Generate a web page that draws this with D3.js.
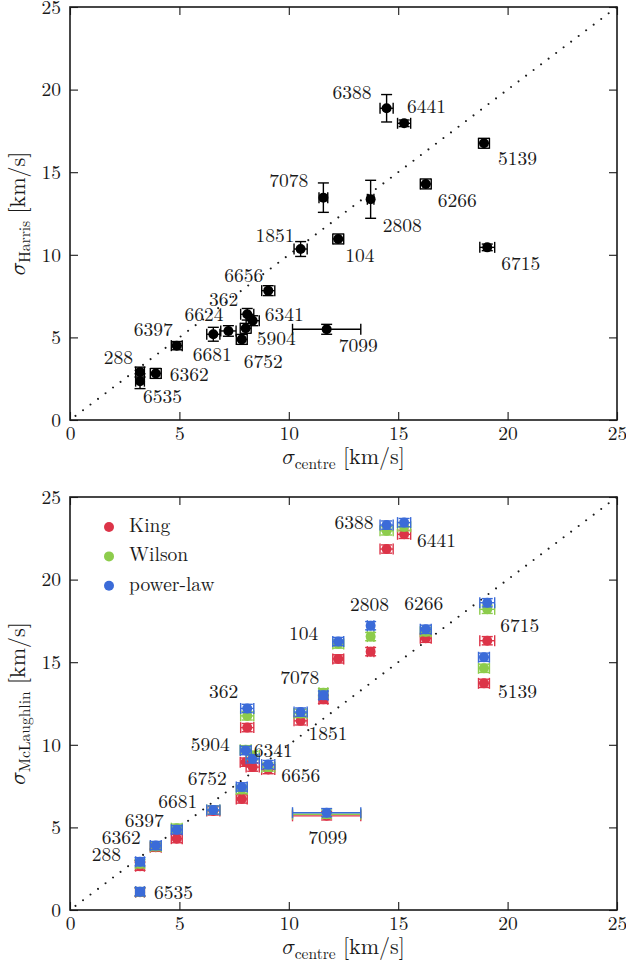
<!DOCTYPE html>
<html>
<head>
<meta charset="utf-8">
<script src="https://cdn.jsdelivr.net/npm/d3@7/dist/d3.min.js"></script>
<style>
  html, body { margin: 0; padding: 0; background: #fff; }
  svg { display: block; }
</style>
</head>
<body>
<svg id="chart" width="626" height="970"></svg>
<script>
// ---- data -------------------------------------------------------------
const clusters = ["104","288","362","1851","2808","5139","5904","6266","6341","6362","6388",
                  "6397","6441","6535","6624","6656","6681","6715","6752","7078","7099"];

// central velocity dispersion [km/s] and its uncertainty
const sigmaCentre    = [12.26, 3.20, 8.10, 10.54, 13.74, 18.92, 8.03, 16.26, 8.35, 3.92, 14.47,
                        4.88, 15.27, 3.20, 7.24, 9.06, 6.55, 19.07, 7.85, 11.58, 11.73];
const sigmaCentreErr = [0.25, 0.20, 0.30, 0.30, 0.15, 0.25, 0.25, 0.25, 0.30, 0.25, 0.30,
                        0.25, 0.30, 0.20, 0.35, 0.30, 0.30, 0.34, 0.25, 0.20, 1.56];

// Harris catalogue dispersion
const sigmaHarris    = [10.96, 2.90, 6.40, 10.35, 13.36, 16.75, 5.55, 14.29, 6.01, 2.82, 18.87,
                        4.50, 17.96, 2.35, 5.39, 7.83, 5.19, 10.45, 4.88, 13.46, 5.49];
const sigmaHarrisErr = [0.30, 0.30, 0.35, 0.45, 1.15, 0.30, 0.30, 0.30, 0.30, 0.30, 0.83,
                        0.25, 0.20, 0.45, 0.32, 0.30, 0.42, 0.20, 0.30, 0.89, 0.30];

// McLaughlin & van der Marel dispersions for three model families (null = no value)
const mclKing     = [15.20, 2.65, 11.04, 11.45, 15.64, 13.72, 8.95, 16.45, 8.65, 3.80, 21.85,
                     4.32, 22.74, 1.08, null, 8.50, 6.00, 16.30, 6.72, 12.75, 5.70];
const mclWilson   = [16.10, 2.80, 11.75, 11.90, 16.55, 14.63, 9.70, 16.85, 9.35, 3.85, 22.95,
                     4.95, 23.20, 1.10, null, 8.65, 6.05, 18.20, 7.30, 13.15, 5.80];
const mclPowerLaw = [16.25, 2.92, 12.20, 11.98, 17.21, 15.30, 9.65, 16.99, 9.15, 3.90, 23.30,
                     4.86, 23.45, 1.11, null, 8.80, 6.05, 18.60, 7.45, 13.00, 5.89];
const mclErr      = [0.25, 0.25, 0.25, 0.25, 0.25, 0.25, 0.25, 0.25, 0.25, 0.25, 0.25,
                     0.25, 0.25, 0.25, null, 0.25, 0.25, 0.25, 0.25, 0.25, 0.25];

const seriesNames = ["King", "Wilson", "power-law"];
const tickValues  = [0, 5, 10, 15, 20, 25];

// ---- label placement (pixel offsets from the marker, text anchor) ------
const topLabelPos = {
  "6388": [-15, -9, "end"],   "6441": [3, -10, "start"],   "5139": [14, 22, "start"],
  "6266": [12, 23, "start"],  "2808": [12, 33, "start"],   "7078": [-15, -11, "end"],
  "1851": [-6, -7, "end"],    "104":  [7, 23, "start"],    "6715": [14, 23, "start"],
  "6656": [-5, -9, "end"],    "362":  [-9, -8, "end"],     "6341": [12, 0, "start"],
  "6624": [-5, -10, "end"],   "6397": [-4, -10, "end"],    "5904": [11, 17, "start"],
  "6681": [-1, 27, "middle"], "6752": [2, 29, "start"],    "288":  [-7, -8, "end"],
  "6362": [14, 8, "start"],   "6535": [3, 22, "start"],    "7099": [12, 23, "start"]
};
const bottomLabelPos = {
  "6388": [-13, 4, "end"],    "6441": [13, 24, "start"],   "2808": [-1, -15, "middle"],
  "6266": [-2, -19, "middle"],"6715": [13, 29, "start"],   "5139": [14, 41, "start"],
  "104":  [-20, -2, "end"],   "362":  [-9, -10, "end"],    "7078": [-4, -11, "end"],
  "1851": [8, 28, "start"],   "5904": [-16, 0, "end"],     "6341": [1, -2, "start"],
  "6656": [13, 17, "start"],  "6752": [-15, -2, "end"],    "6681": [-16, -2, "end"],
  "6397": [-13, -3, "end"],   "6362": [-15, -2, "end"],    "288":  [-19, -1, "end"],
  "6535": [14, 7, "start"],   "7099": [1, 31, "middle"]
};

// ---- drawing ----------------------------------------------------------
const FONT = "'Latin Modern Roman', 'Liberation Serif', serif";
const MATH = "'Latin Modern Math', 'Latin Modern Roman', 'Liberation Serif', serif";
const INK = "#1a1a1a";

const svg = d3.select("#chart");
const colors = { "King": "#dc3448", "Wilson": "#8dcc4c", "power-law": "#3b6bd8" };

const x = d3.scaleLinear().domain([0, 25]).range([70, 617]);
const yTop = d3.scaleLinear().domain([0, 25]).range([420, 7]);
const yBot = d3.scaleLinear().domain([0, 25]).range([910, 497]);

function styleText(sel, size) {
  return sel.style("font-family", FONT).style("font-size", size).attr("fill", INK);
}

function addSigmaTitle(t, sub) {
  t.append("tspan").style("font-family", MATH).text("\u{1D70E}");
  t.append("tspan").attr("dy", 5).style("font-size", "15.5px").text(sub);
  t.append("tspan").attr("dy", -5).text(" [km/s]");
}

function drawFrame(y, ySubscript) {
  const g = svg.append("g");
  const [x0, x1] = x.range();
  const [yb, yt] = y.range();

  g.append("g").attr("transform", `translate(0,${yb})`)
    .call(d3.axisBottom(x).tickValues(tickValues).tickSize(-8).tickPadding(6.5).tickFormat(d3.format("d")));
  g.append("g").attr("transform", `translate(${x0},0)`)
    .call(d3.axisLeft(y).tickValues(tickValues).tickSize(-8).tickPadding(9).tickFormat(d3.format("d")));
  g.append("g").attr("transform", `translate(0,${yt})`)
    .call(d3.axisTop(x).tickValues(tickValues).tickSize(-8).tickFormat(""));
  g.append("g").attr("transform", `translate(${x1},0)`)
    .call(d3.axisRight(y).tickValues(tickValues).tickSize(-8).tickFormat(""));

  g.selectAll(".domain").remove();
  g.selectAll(".tick line").attr("stroke", INK).attr("stroke-width", 1.1);
  styleText(g.selectAll(".tick text"), "19.5px");

  g.append("rect").attr("x", x0).attr("y", yt).attr("width", x1 - x0).attr("height", yb - yt)
    .attr("fill", "none").attr("stroke", INK).attr("stroke-width", 1.6);

  // x axis title
  const xt = styleText(g.append("text"), "22px")
    .attr("x", (x0 + x1) / 2).attr("y", yb + 44).attr("text-anchor", "middle");
  addSigmaTitle(xt, "centre");

  // y axis title
  const yc = (yb + yt) / 2;
  const ytl = styleText(g.append("text"), "22px")
    .attr("transform", `translate(25,${yc}) rotate(-90)`).attr("text-anchor", "middle");
  addSigmaTitle(ytl, ySubscript);

  // one-to-one reference line
  g.append("line")
    .attr("x1", x(0.25)).attr("y1", y(0.25)).attr("x2", x(25)).attr("y2", y(25))
    .attr("stroke", INK).attr("stroke-width", 2).attr("stroke-linecap", "round")
    .attr("stroke-dasharray", "0.01 9.4");
  return g;
}

function drawErrorPoints(g, xs, xerr, ys, yerr, y, color, r) {
  const cap = 5.5;
  const pts = clusters.map((c, i) => ({ c, x: xs[i], xe: xerr[i], y: ys[i], ye: yerr[i] }))
    .filter(d => d.y !== null);
  const pg = g.append("g").attr("stroke", color).attr("stroke-width", 1.4).attr("fill", "none");
  pts.forEach(d => {
    const cx = x(d.x), cy = y(d.y);
    const xl = x(d.x - d.xe), xr = x(d.x + d.xe);
    const yl = y(d.y - d.ye), yh = y(d.y + d.ye);
    pg.append("line").attr("x1", xl).attr("x2", xr).attr("y1", cy).attr("y2", cy);
    pg.append("line").attr("x1", xl).attr("x2", xl).attr("y1", cy - cap).attr("y2", cy + cap);
    pg.append("line").attr("x1", xr).attr("x2", xr).attr("y1", cy - cap).attr("y2", cy + cap);
    pg.append("line").attr("x1", cx).attr("x2", cx).attr("y1", yl).attr("y2", yh);
    pg.append("line").attr("x1", cx - cap).attr("x2", cx + cap).attr("y1", yl).attr("y2", yl);
    pg.append("line").attr("x1", cx - cap).attr("x2", cx + cap).attr("y1", yh).attr("y2", yh);
  });
  g.append("g").selectAll("circle").data(pts).join("circle")
    .attr("cx", d => x(d.x)).attr("cy", d => y(d.y)).attr("r", r).attr("fill", color);
}

function drawLabels(g, ys, y, pos) {
  const items = clusters.map((c, i) => ({ c, x: sigmaCentre[i], y: ys[i] }))
    .filter(d => d.y !== null && pos[d.c]);
  styleText(g.append("g").selectAll("text").data(items).join("text"), "19.5px")
    .attr("x", d => x(d.x) + pos[d.c][0])
    .attr("y", d => y(d.y) + pos[d.c][1])
    .attr("text-anchor", d => pos[d.c][2])
    .text(d => d.c);
}

// top panel: Harris vs central dispersion
const gTop = drawFrame(yTop, "Harris");
drawErrorPoints(gTop, sigmaCentre, sigmaCentreErr, sigmaHarris, sigmaHarrisErr, yTop, "#000", 5);
drawLabels(gTop, sigmaHarris, yTop, topLabelPos);

// bottom panel: McLaughlin models vs central dispersion
const gBot = drawFrame(yBot, "McLaughlin");
const modelValues = [mclKing, mclWilson, mclPowerLaw];
seriesNames.forEach((name, k) => {
  drawErrorPoints(gBot, sigmaCentre, sigmaCentreErr, modelValues[k], mclErr, yBot, colors[name], 5);
});
drawLabels(gBot, mclPowerLaw, yBot, bottomLabelPos);

// legend
const legend = gBot.append("g").attr("transform", "translate(109,527)");
seriesNames.forEach((name, k) => {
  const row = legend.append("g").attr("transform", `translate(0,${k * 29.4})`);
  row.append("circle").attr("r", 5).attr("fill", colors[name]);
  styleText(row.append("text"), "19.5px").attr("x", 20).attr("y", 5).text(name);
});
</script>
</body>
</html>
